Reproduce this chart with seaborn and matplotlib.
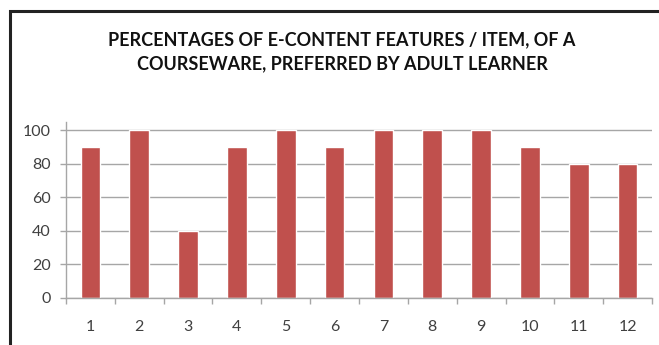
import matplotlib
matplotlib.use("Agg")
import matplotlib.pyplot as plt
import seaborn as sns
import pandas as pd
from matplotlib.patches import Rectangle
from matplotlib.ticker import FixedLocator

items = ["1", "2", "3", "4", "5", "6", "7", "8", "9", "10", "11", "12"]
percentages = [90, 100, 40, 90, 100, 90, 100, 100, 100, 90, 80, 80]
y_ticks = [0, 20, 40, 60, 80, 100]
title = "PERCENTAGES OF E-CONTENT FEATURES / ITEM, OF A\nCOURSEWARE, PREFERRED BY ADULT LEARNER"

sns.set_theme(style="white")
plt.rcParams["font.family"] = ["Lato", "DejaVu Sans"]

W, H = 659, 345
fig = plt.figure(figsize=(W / 100, H / 100), dpi=100)
fig.patch.set_facecolor("white")

ax = fig.add_axes([66 / W, 1 - 297.7 / H, (652 - 66) / W, (297.7 - 121.7) / H])
df = pd.DataFrame({"item": items, "pct": percentages})
sns.barplot(data=df, x="item", y="pct", color="#C0504D", saturation=1,
            width=0.4, ax=ax, zorder=3)

ax.set_xlim(-0.5, len(items) - 0.5)
ax.set_ylim(0, 105)
ax.set_yticks(y_ticks)
ax.set_xlabel("")
ax.set_ylabel("")
ax.yaxis.grid(True, color="#A6A6A6", linewidth=1, zorder=0)
ax.xaxis.grid(False)
for s in ["top", "right"]:
    ax.spines[s].set_visible(False)
for s in ["left", "bottom"]:
    ax.spines[s].set_color("#A6A6A6")
    ax.spines[s].set_linewidth(1)
ax.spines["bottom"].set_zorder(4)

ax.xaxis.set_minor_locator(FixedLocator([i - 0.5 for i in range(len(items) + 1)]))
ax.tick_params(axis="x", which="major", length=0, pad=16, labelsize=11.5,
               labelcolor="#404040")
ax.tick_params(axis="x", which="minor", length=4, width=1, color="#A6A6A6",
               direction="out", bottom=True)
ax.tick_params(axis="y", which="major", length=4, width=1, color="#A6A6A6",
               direction="out", left=True, pad=7, labelsize=11.5, labelcolor="#404040")

fig.text(342 / W, 1 - 52 / H, title, ha="center", va="center", fontsize=13,
         fontweight="bold", color="#111111", linespacing=1.5)

border = Rectangle((10 / W, -0.1), 1.2, 1 - 10.5 / H + 0.1, transform=fig.transFigure,
                   fill=False, edgecolor="#222222", linewidth=2.2)
fig.patches.append(border)

fig.savefig("out.png", dpi=100, facecolor="white")
